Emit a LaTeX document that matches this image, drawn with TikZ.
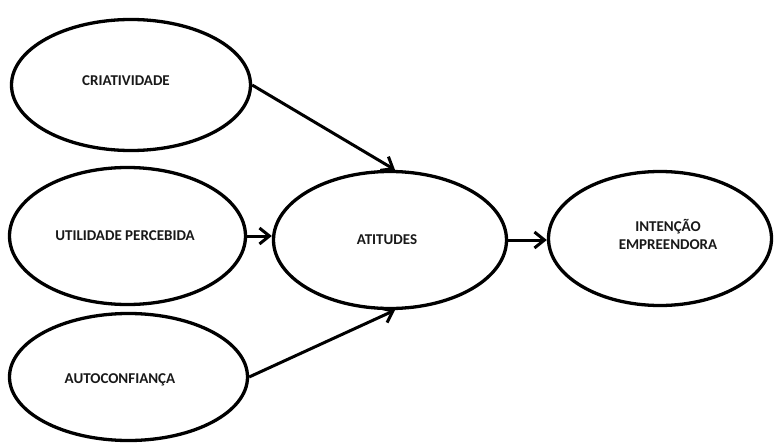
\documentclass[tikz,border=0pt]{standalone}
\usepackage{fontspec}
\setmainfont{Carlito}
\usetikzlibrary{shapes.geometric,arrows.meta}
\tikzset{
  construct/.style={draw=black, line width=3.3pt, ellipse, inner sep=0pt, fill=white},
  caption/.style={font=\bfseries\fontsize{15pt}{18pt}\selectfont, text=black!90, inner sep=0pt, align=center},
  link/.style={line width=3pt, -{Straight Barb[length=10pt,width=16pt]}}
}
\begin{document}
\begin{tikzpicture}[x=1pt, y=-1pt]
  \useasboundingbox[fill=white] (0,0) rectangle (776,444);

  % constructs
  \node[construct, minimum width=239pt, minimum height=131pt] (cria) at (131,85) {};
  \node[construct, minimum width=236pt, minimum height=137pt] (util) at (127.5,236) {};
  \node[construct, minimum width=238pt, minimum height=127pt] (auto) at (128.5,377) {};
  \node[construct, minimum width=233pt, minimum height=137pt] (att)  at (390,240) {};
  \node[construct, minimum width=223pt, minimum height=134pt] (int)  at (660,238.5) {};

  % labels
  \node[caption] (criaT) at (126,81)  {CRIATIVIDADE};
  \node[caption] (utilT) at (125,236) {UTILIDADE PERCEBIDA};
  \node[caption] (autoT) at (120,380) {AUTOCONFIANÇA};
  \node[caption] (attT)  at (387,240) {ATITUDES};
  \node[caption] (intT)  at (668,234) {INTENÇÃO\\EMPREENDORA};

  % paths
  \draw[link] (cria.east) -- ([xshift=5pt]att.north);
  \draw[link] (util.east) -- (util.east -| att.west);
  \draw[link] (auto.east) -- ([xshift=5pt]att.south);
  \draw[link] (att.east) -- (att.east -| int.west);
\end{tikzpicture}
\end{document}
